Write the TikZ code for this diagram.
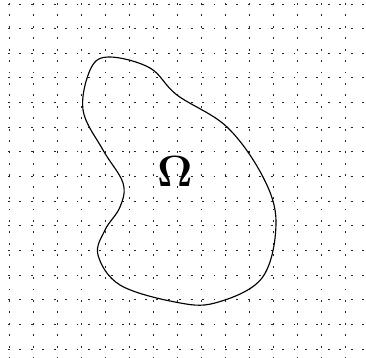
\documentclass[tikz,border=0pt]{standalone}
\usepackage{amsmath}
\usetikzlibrary{positioning}

\begin{document}
\begin{tikzpicture}[
  x=0.02cm, y=-0.02cm,
  griglia/.style={draw=black!85, line width=0.5pt, dash pattern=on 1.1pt off 5.4pt},
  contorno/.style={draw=black, line width=0.65pt},
  etichetta/.style={font=\Huge}
]
\useasboundingbox (0,0) rectangle (366,358);

% griglia
\foreach \k in {0,...,14} {
  \draw[griglia] (9+24*\k,3) -- (9+24*\k,358);
  \draw[griglia] (8,4+24.64*\k) -- (366,4+24.64*\k);
}

% dominio
\draw[contorno, smooth cycle, tension=0.6] plot coordinates {(110,57) (150,68) (177,95) (227,127) (263,177) (276,223) (262,278) (215,303) (175,302) (120,285) (98,255) (105,230) (120,207) (123,183) (103,150) (83,110) (91,68)};

\node[etichetta] (omega) at (175,172) {$\mathbf{\Omega}$};

\end{tikzpicture}
\end{document}
